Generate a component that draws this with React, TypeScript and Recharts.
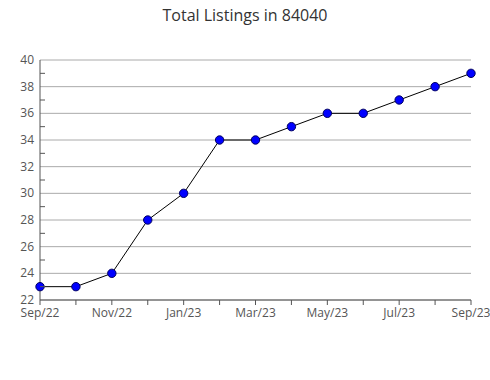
import { LineChart, Line, XAxis, YAxis, CartesianGrid } from "recharts";

const months = ["Sep/22", "Oct/22", "Nov/22", "Dec/22", "Jan/23", "Feb/23", "Mar/23", "Apr/23", "May/23", "Jun/23", "Jul/23", "Aug/23", "Sep/23"];
const listings = [23, 23, 24, 28, 30, 34, 34, 35, 36, 36, 37, 38, 39];
const yTicks = [22, 23, 24, 25, 26, 27, 28, 29, 30, 31, 32, 33, 34, 35, 36, 37, 38, 39, 40];
const gridValues = [22, 24, 26, 28, 30, 32, 34, 36, 38, 40];

const data = months.map((m, i) => ({ month: m, value: listings[i] }));

const FONT = "'Open Sans', sans-serif";

function YTick(props: any) {
  const { x, y, payload } = props;
  const axisX = x + 8;
  const major = payload.value % 2 === 0;
  return (
    <g>
      {!major && <line x1={axisX} x2={axisX + 5} y1={y} y2={y} stroke="#555" />}
      {major && (
        <text x={axisX - 6} y={y} dy={4} textAnchor="end" fill="#555" fontSize={12} fontFamily={FONT}>
          {payload.value}
        </text>
      )}
    </g>
  );
}

function XTick(props: any) {
  const { x, y, payload, index } = props;
  if (index % 2 !== 0) return <g />;
  return (
    <text x={x} y={y} dy={10} textAnchor="middle" fill="#555" fontSize={12} fontFamily={FONT}>
      {payload.value}
    </text>
  );
}

export default function App() {
  return (
    <div style={{ position: "absolute", left: 0, top: 0, width: 490, height: 380, background: "#fff" }}>
      <div style={{ position: "absolute", top: 4, width: 490, textAlign: "center", fontFamily: FONT, fontSize: 16, color: "#333" }}>
        Total Listings in 84040
      </div>
      <LineChart width={490} height={380} data={data} margin={{ top: 60, right: 19, left: 0, bottom: 55 }}>
        <CartesianGrid horizontal vertical={false} horizontalValues={gridValues} stroke="#aaa" />
        <XAxis
          dataKey="month"
          interval={0}
          tick={<XTick />}
          tickSize={5}
          tickLine={{ stroke: "#555" }}
          axisLine={{ stroke: "#555" }}
          height={25}
        />
        <YAxis
          domain={[22, 40]}
          ticks={yTicks}
          interval={0}
          width={40}
          tick={<YTick />}
          tickLine={false}
          tickSize={0}
          tickMargin={8}
          axisLine={{ stroke: "#555" }}
        />
        <Line
          dataKey="value"
          type="linear"
          stroke="#000"
          strokeWidth={1}
          dot={{ r: 4.2, fill: "#0000ff", stroke: "#000060", strokeWidth: 1 }}
          isAnimationActive={false}
        />
      </LineChart>
    </div>
  );
}
